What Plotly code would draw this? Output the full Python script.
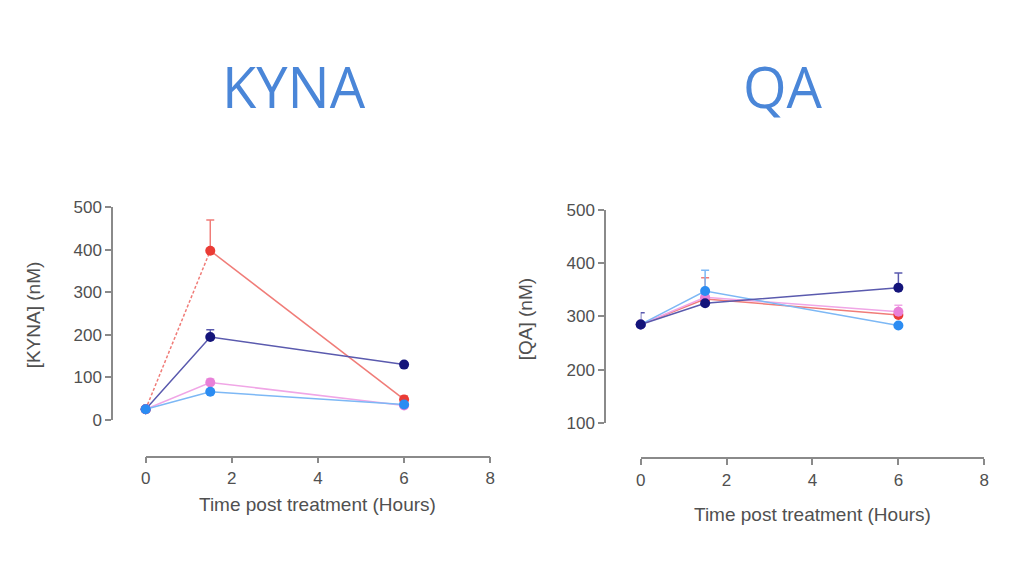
import plotly.graph_objects as go

# time points (hours)
hours = [0, 1.5, 6]

# KYNA (nM) mean and error
kyna_red = [25, 398, 48]
kyna_red_err = [0, 72, 8]
kyna_navy = [25, 195, 130]
kyna_navy_err = [0, 17, 0]
kyna_pink = [25, 88, 34]
kyna_pink_err = [0, 8, 0]
kyna_lblue = [25, 66, 36]
kyna_lblue_err = [0, 0, 0]

# QA (nM) mean and error
qa_red = [285, 333, 303]
qa_red_err = [0, 40, 0]
qa_navy = [285, 325, 354]
qa_navy_err = [22, 0, 28]
qa_pink = [285, 336, 309]
qa_pink_err = [0, 0, 12]
qa_lblue = [285, 348, 283]
qa_lblue_err = [0, 39, 0]

# page body has an 8px margin, so the figure is made 16px smaller
OFF = 8
W, H = 1024 - 2 * OFF, 576 - 2 * OFF
def px(x): return (x - OFF) / W
def py(y): return 1 - (y - OFF) / H

colors = {'red': '#EA3B35', 'navy': '#14147A', 'pink': '#E880D8', 'lblue': '#2B8CF2'}
line_colors = {'red': '#F07C78', 'navy': '#5A5AAE', 'pink': '#F0A6E6', 'lblue': '#7DB8F5'}

fig = go.Figure()

def add_series(x, y, err, key, xa, ya, dash_first=False):
    ebar = dict(type='data', array=err, arrayminus=[0]*len(err), color=line_colors[key],
                thickness=1.5, width=4)
    if dash_first:
        # first segment dashed, rest solid
        fig.add_trace(go.Scatter(x=x[:2], y=y[:2], mode='lines', xaxis=xa, yaxis=ya,
                                 line=dict(color=line_colors[key], width=1.5, dash='3px,2px'),
                                 showlegend=False, cliponaxis=False))
        fig.add_trace(go.Scatter(x=x[1:], y=y[1:], mode='lines', xaxis=xa, yaxis=ya,
                                 line=dict(color=line_colors[key], width=1.5),
                                 showlegend=False, cliponaxis=False))
        mode = 'markers'
    else:
        mode = 'lines+markers'
    fig.add_trace(go.Scatter(x=x, y=y, mode=mode, xaxis=xa, yaxis=ya, error_y=ebar,
                             line=dict(color=line_colors[key], width=1.5),
                             marker=dict(color=colors[key], size=10),
                             showlegend=False, cliponaxis=False))

add_series(hours, kyna_red, kyna_red_err, 'red', 'x', 'y', dash_first=True)
add_series(hours, kyna_navy, kyna_navy_err, 'navy', 'x', 'y')
add_series(hours, kyna_pink, kyna_pink_err, 'pink', 'x', 'y')
add_series(hours, kyna_lblue, kyna_lblue_err, 'lblue', 'x', 'y')

add_series(hours, qa_red, qa_red_err, 'red', 'x2', 'y2')
add_series(hours, qa_pink, qa_pink_err, 'pink', 'x2', 'y2')
add_series(hours, qa_lblue, qa_lblue_err, 'lblue', 'x2', 'y2')
add_series(hours, qa_navy, qa_navy_err, 'navy', 'x2', 'y2')

axis_common = dict(showline=True, linecolor='#8a8a8a', linewidth=1.5, ticks='outside',
                   tickcolor='#8a8a8a', ticklen=6, tickwidth=1.5, showgrid=False, zeroline=False,
                   tickfont=dict(family='Liberation Sans', size=17, color='#505050'))

fig.update_layout(
    width=W, height=H, margin=dict(l=0, r=0, t=0, b=0),
    paper_bgcolor='white', plot_bgcolor='white',
    xaxis=dict(domain=[px(142), px(490)], range=[0, 8], dtick=2, anchor='free', position=py(463),
               **axis_common),
    yaxis=dict(domain=[py(425), py(205)], range=[0, 500], dtick=100, anchor='free', position=px(108),
               **axis_common),
    xaxis2=dict(domain=[px(642), px(989)], range=[0, 8], dtick=2, anchor='free', position=py(465),
                **axis_common),
    yaxis2=dict(domain=[py(428), py(208)], range=[100, 500], dtick=100, anchor='free', position=px(606),
                **axis_common),
)

label_font = dict(family='Liberation Sans', size=19, color='#505050')
title_font = dict(family='Open Sans', size=56, color='#4A86D8')

def note(x, y, text, font, angle=0):
    fig.add_annotation(x=px(x), y=py(y), xref='paper', yref='paper', text=text, showarrow=False,
                       xanchor='center', yanchor='middle', textangle=angle, font=font)

note(292, 79, 'KYNA', title_font)
note(786, 79, 'QA', title_font)
note(316, 513, 'Time post treatment (Hours)', label_font)
note(816, 523, 'Time post treatment (Hours)', label_font)
note(29, 316, '[KYNA] (nM)', label_font, -90)
note(526, 321, '[QA] (nM)', label_font, -90)

fig.write_html("out.html")
